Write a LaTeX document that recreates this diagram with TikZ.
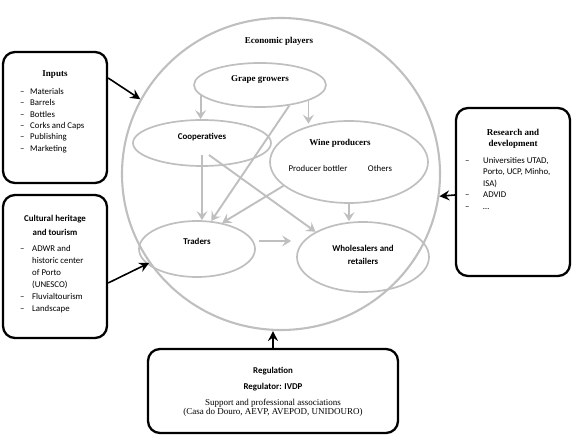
\documentclass[tikz,border=0pt]{standalone}
\usepackage{fontspec}
\setmainfont{Liberation Serif}
\newfontfamily\calibri{Carlito}
\usetikzlibrary{shapes.geometric, arrows.meta, positioning}
\newcommand{\itm}[2][10pt]{\makebox[#1][l]{\textendash}#2}
\newcommand{\cnt}[2][10pt]{\hspace*{#1}#2}

\begin{document}
\begin{tikzpicture}[x=1pt, y=-1pt]
    \tikzstyle{player} = [ellipse, draw=gray!50, line width=1.7pt, inner sep=0pt]
    \tikzstyle{box} = [rectangle, draw, line width=2.3pt, rounded corners=12pt]
    \tikzstyle{head} = [font=\bfseries\fontsize{9}{11}\selectfont, align=center, inner sep=0pt]
    \tikzstyle{cbold} = [font=\calibri\bfseries\fontsize{8.9}{14}\selectfont, align=center, inner sep=0pt]
    \tikzstyle{items} = [font=\calibri\fontsize{8.8}{11.4}\selectfont, align=left, inner sep=0pt, anchor=north west]
    \tikzstyle{gline} = [draw=gray!50, line width=1.9pt, -{Stealth[length=9pt, width=11pt, inset=3.5pt]}]
    \tikzstyle{bline} = [draw, line width=1.6pt, -{Stealth[length=10pt, width=10pt, inset=3.5pt]}]

    \useasboundingbox (0,0) rectangle (576,443);

    % economic players
    \node [player, line width=2.1pt, minimum width=318pt, minimum height=312pt] (players) at (281,174) {};
    \node [head] (playerstitle) at (279,41) {Economic players};

    \node [player, minimum width=132pt, minimum height=44pt] (grape) at (260,85) {};
    \node [head] (grapetext) at (260,80) {Grape growers};

    \node [player, minimum width=138pt, minimum height=46pt] (coop) at (202,143) {};
    \node [cbold] (cooptext) at (202,137) {Cooperatives};

    \node [player, minimum width=158pt, minimum height=82pt] (wine) at (349,162) {};
    \node [head] (winetext) at (340,143) {Wine producers};
    \node [items, anchor=center] (bottler) at (318,168) {Producer bottler};
    \node [items, anchor=center] (others) at (380,168) {Others};

    \node [player, minimum width=116pt, minimum height=56pt] (traders) at (197,249) {};
    \node [cbold] (traderstext) at (197,241) {Traders};

    \node [player, minimum width=132pt, minimum height=70pt] (whole) at (363,257) {};
    \node [cbold, font=\calibri\bfseries\fontsize{8.9}{13}\selectfont] (wholetext) at (363,255) {Wholesalers and\\retailers};

    % flows between the players
    \coordinate (coopout) at ([yshift=-12pt]coop.center);
    \coordinate (coopout2) at ([xshift=7pt, yshift=-12pt]coop.center);
    \coordinate (tradersout) at ([shift={(3,-8)}]traders.east);
    \coordinate (wholein) at ([shift={(-5,-16)}]whole.west);

    \path [gline] (grape.190) -- (grape.190 |- coop.north);
    \path [gline] (grape.342) -- (grape.342 |- wine.130);
    \path [gline] (grape.325) -- (traders.63);
    \path [gline] (coopout) -- (coopout |- traders.north);
    \path [gline] (coopout2) -- (whole.152);
    \path [gline] (wine.200) -- (traders.46);
    \path [gline] (wine.south) -- (wine.south |- whole.north);
    \path [gline] (tradersout) -- (wholein);

    % surrounding boxes
    \node [box, minimum width=104pt, minimum height=131pt] (inputs) at (55,117.5) {};
    \node [head] (inputshead) at (55,75) {Inputs};
    \node [items] (inputslist) at (20,88) {\itm{Materials}\\ \itm{Barrels}\\ \itm{Bottles}\\ \itm{Corks and Caps}\\ \itm{Publishing}\\ \itm{Marketing}};

    \node [box, minimum width=104pt, minimum height=143pt] (cultural) at (55,266.5) {};
    \node [cbold] (culturalhead) at (55,225) {Cultural heritage\\and tourism};
    \node [items, font=\calibri\fontsize{8.8}{12}\selectfont] (culturallist) at (20,245) {\itm[12pt]{ADWR and}\\ \cnt[12pt]{historic center}\\ \cnt[12pt]{of Porto}\\ \cnt[12pt]{(UNESCO)}\\ \itm[12pt]{Fluvialtourism}\\ \itm[12pt]{Landscape}};

    \node [box, minimum width=114pt, minimum height=168pt] (research) at (513,192) {};
    \node [head] (researchhead) at (513,138.5) {Research and\\development};
    \node [items, font=\calibri\fontsize{8.8}{11.5}\selectfont] (researchlist) at (465,157) {\itm[18pt]{Universities UTAD,}\\ \cnt[18pt]{Porto, UCP, Minho,}\\ \cnt[18pt]{ISA)}\\ \itm[18pt]{ADVID}\\ \itm[18pt]{\dots}};

    \node [box, minimum width=250pt, minimum height=84pt] (regulation) at (273,391) {};
    \node [cbold] (regulationhead) at (273,371) {Regulation};
    \node [cbold] (regulator) at (273,387) {Regulator: IVDP};
    \node [head, font=\fontsize{9}{9.5}\selectfont] (associations) at (273,408) {Support and professional associations\\(Casa do Douro, AEVP, AVEPOD, UNIDOURO)};

    % influences on the players
    \path [bline] ([yshift=39.5pt]inputs.east) -- (players.152);
    \path [bline] ([yshift=-16.5pt]cultural.east) -- (players.214);
    \path [bline] ([yshift=-3pt]research.west) -- (players.352);
    \path [bline] (regulation.north) -- (regulation.north |- players.south);
\end{tikzpicture}
\end{document}
